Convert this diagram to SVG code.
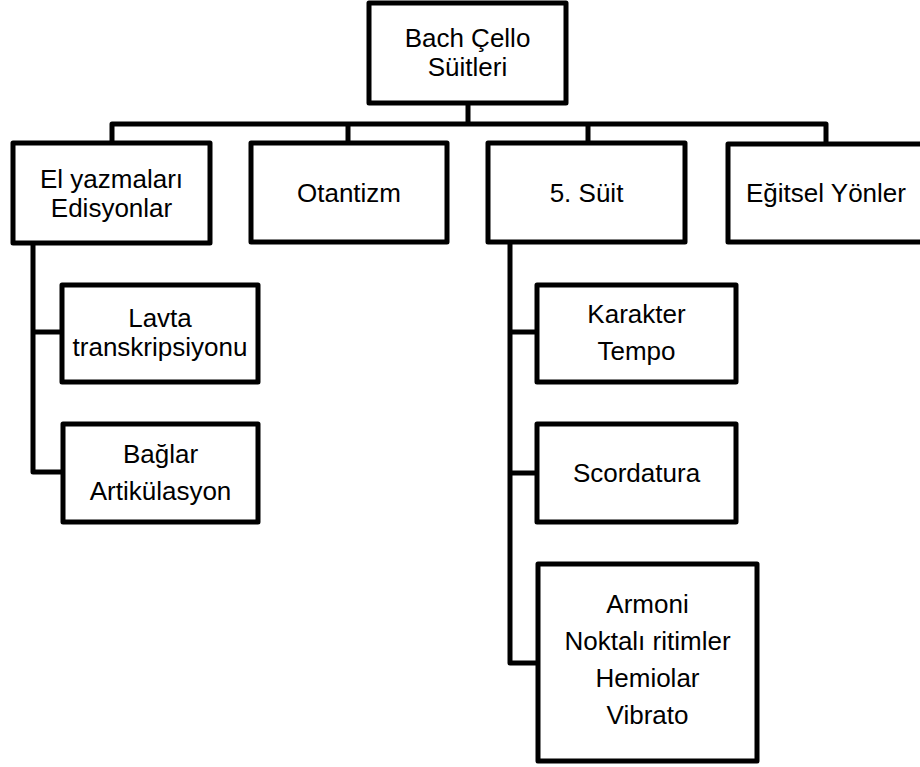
<svg xmlns="http://www.w3.org/2000/svg" width="920" height="767" viewBox="0 0 920 767">
<style>
.box{fill:#fff;stroke:#000;stroke-width:5;stroke-linejoin:round}
.con{fill:none;stroke:#000;stroke-width:5;stroke-linejoin:round}
text{font-family:"Liberation Sans",Arial,sans-serif;font-size:26px;fill:#000;text-anchor:middle}
</style>
<rect width="920" height="767" fill="#fff"/>
<g id="connectors">
<path class="con" d="M468,103 V124"/>
<path class="con" d="M112,143 V124 H826 V144"/>
<path class="con" d="M348,124 V143"/>
<path class="con" d="M588,124 V143"/>
<path class="con" d="M33,243 V472 H63"/>
<path class="con" d="M33,332 H62"/>
<path class="con" d="M510,242 V663 H538"/>
<path class="con" d="M510,332 H537"/>
<path class="con" d="M510,473 H537"/>
</g>
<g id="root">
<rect class="box" x="369" y="3" width="197" height="100"/>
<text x="467.5" y="47">Bach Çello</text>
<text x="467.5" y="76">Süitleri</text>
</g>
<g id="el-yazmalari">
<rect class="box" x="13" y="143" width="197" height="100"/>
<text x="111.5" y="188">El yazmaları</text>
<text x="111.5" y="217">Edisyonlar</text>
</g>
<g id="otantizm">
<rect class="box" x="251" y="143" width="196" height="99"/>
<text x="349" y="202">Otantizm</text>
</g>
<g id="suit5">
<rect class="box" x="488" y="143" width="197" height="99"/>
<text x="586.5" y="202">5. Süit</text>
</g>
<g id="egitsel">
<rect class="box" x="728" y="144" width="197" height="98"/>
<text x="826" y="202">Eğitsel Yönler</text>
</g>
<g id="lavta">
<rect class="box" x="62" y="285" width="196" height="97"/>
<text x="160" y="327">Lavta</text>
<text x="160" y="356">transkripsiyonu</text>
</g>
<g id="baglar">
<rect class="box" x="63" y="424" width="195" height="98"/>
<text x="160.5" y="463">Bağlar</text>
<text x="160.5" y="500">Artikülasyon</text>
</g>
<g id="karakter">
<rect class="box" x="537" y="285" width="199" height="97"/>
<text x="636.5" y="323">Karakter</text>
<text x="636.5" y="360">Tempo</text>
</g>
<g id="scordatura">
<rect class="box" x="537" y="424" width="199" height="98"/>
<text x="636.5" y="482">Scordatura</text>
</g>
<g id="armoni">
<rect class="box" x="538" y="564" width="219" height="197"/>
<text x="647.5" y="613">Armoni</text>
<text x="647.5" y="650">Noktalı ritimler</text>
<text x="647.5" y="687">Hemiolar</text>
<text x="647.5" y="724">Vibrato</text>
</g>
</svg>
